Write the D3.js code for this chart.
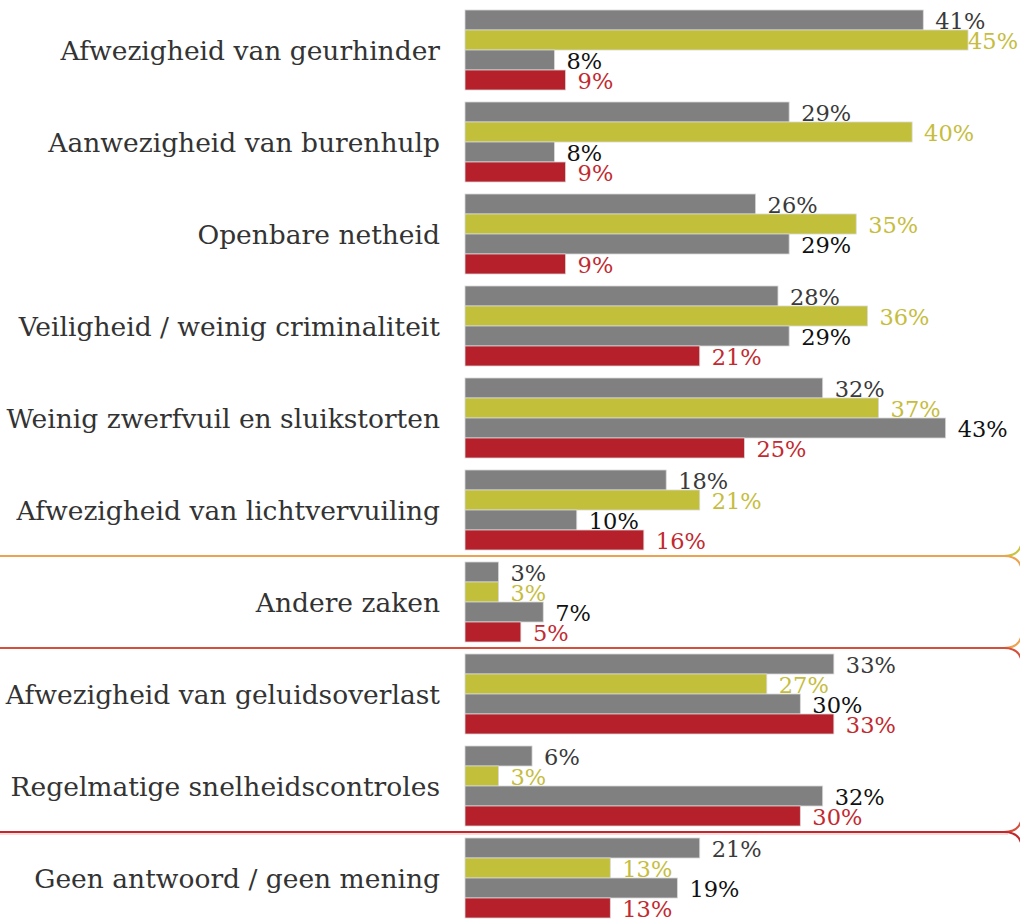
<!DOCTYPE html>
<html>
<head>
<meta charset="utf-8">
<script src="https://cdn.jsdelivr.net/npm/d3@7"></script>
<style>
  html, body { margin: 0; padding: 0; background: #fff; }
  svg { display: block; }
</style>
</head>
<body>
<svg id="chart" width="1020" height="920"></svg>
<script>
// Survey items, top to bottom
const categories = [
  "Afwezigheid van geurhinder",
  "Aanwezigheid van burenhulp",
  "Openbare netheid",
  "Veiligheid / weinig criminaliteit",
  "Weinig zwerfvuil en sluikstorten",
  "Afwezigheid van lichtvervuiling",
  "Andere zaken",
  "Afwezigheid van geluidsoverlast",
  "Regelmatige snelheidscontroles",
  "Geen antwoord / geen mening"
];

// Percentages per respondent group (four bars per item)
const valuesGrey1 = [41, 29, 26, 28, 32, 18, 3, 33, 6, 21];
const valuesOlive = [45, 40, 35, 36, 37, 21, 3, 27, 3, 13];
const valuesGrey2 = [8, 8, 29, 29, 43, 10, 7, 30, 32, 19];
const valuesRed   = [9, 9, 9, 21, 25, 16, 5, 33, 30, 13];

const seriesList = [
  { key: "g1", values: valuesGrey1, fill: "#808080", text: "#3a3a3a" },
  { key: "ol", values: valuesOlive, fill: "#c2c03a", text: "#c6bd3e" },
  { key: "g2", values: valuesGrey2, fill: "#808080", text: "#111111" },
  { key: "rd", values: valuesRed,   fill: "#b5202a", text: "#c22a30" }
];

// Bracket boxes grouping the items (first index, last index, colour)
const boxGroups = [
  { from: 0, to: 5, color: "#c9c440" },
  { from: 6, to: 6, color: "#eca24e" },
  { from: 7, to: 8, color: "#d4503c" },
  { from: 9, to: 9, color: "#c0282e" }
];

const W = 1020, H = 920;
const svg = d3.select("#chart");

const x = d3.scaleLinear().domain([0, 45]).range([465, 968]);

const y = d3.scaleBand()
  .domain(categories)
  .range([10, 918])
  .paddingInner(12 / 92)
  .paddingOuter(0);

const ySub = d3.scaleBand()
  .domain(seriesList.map(s => s.key))
  .range([0, y.bandwidth()])
  .padding(0);

// Boxes
const gap = y.step() - y.bandwidth();
const r = 18;
const boxLayer = svg.append("g").attr("fill", "none").attr("stroke-width", 2);
boxGroups.forEach((b, i) => {
  const top = b.from === 0 ? -30 : y(categories[b.from]) - gap / 2;
  const bottom = b.to === categories.length - 1 ? H + 30 : y(categories[b.to]) + y.bandwidth() + gap / 2;
  const left = -20, right = 1022;
  const p = d3.path();
  p.moveTo(left, top);
  p.lineTo(right - r, top);
  p.quadraticCurveTo(right, top, right, top + r);
  p.lineTo(right, bottom - r);
  p.quadraticCurveTo(right, bottom, right - r, bottom);
  p.lineTo(left, bottom);
  boxLayer.append("path").attr("d", p.toString()).attr("stroke", b.color);
});
// faint inner edge under the last divider
boxLayer.append("line")
  .attr("x1", 0).attr("x2", 1008)
  .attr("y1", y(categories[9]) - gap / 2 + 2)
  .attr("y2", y(categories[9]) - gap / 2 + 2)
  .attr("stroke", "#f2b8b8").attr("stroke-width", 1);

// Category labels
svg.append("g")
  .selectAll("text")
  .data(categories)
  .join("text")
  .attr("x", 440)
  .attr("y", d => y(d) + y.bandwidth() / 2)
  .attr("text-anchor", "end")
  .attr("dominant-baseline", "central")
  .attr("font-family", "'DejaVu Serif', serif")
  .attr("font-size", 26.5)
  .attr("fill", "#333")
  .text(d => d);

// Bars and value labels
const groups = svg.append("g")
  .selectAll("g")
  .data(categories)
  .join("g")
  .attr("transform", d => `translate(0,${y(d)})`);

groups.each(function (cat, ci) {
  const g = d3.select(this);
  seriesList.forEach(s => {
    const v = s.values[ci];
    g.append("rect")
      .attr("x", x(0))
      .attr("y", ySub(s.key))
      .attr("width", x(v) - x(0))
      .attr("height", ySub.bandwidth())
      .attr("fill", s.fill)
      .attr("stroke", "#d8d8d8")
      .attr("stroke-width", 0.8);
    const t = g.append("text")
      .attr("x", x(v) + 12)
      .attr("y", ySub(s.key) + ySub.bandwidth() / 2 + 1)
      .attr("dominant-baseline", "central")
      .attr("font-family", "'DejaVu Serif', serif")
      .attr("font-size", 22.5)
      .attr("fill", s.text)
      .text(v + "%");
    const tw = t.node().getComputedTextLength();
    if (x(v) + 12 + tw > W - 2) t.attr("x", Math.max(x(v), W - 2 - tw));
  });
});
</script>
</body>
</html>
